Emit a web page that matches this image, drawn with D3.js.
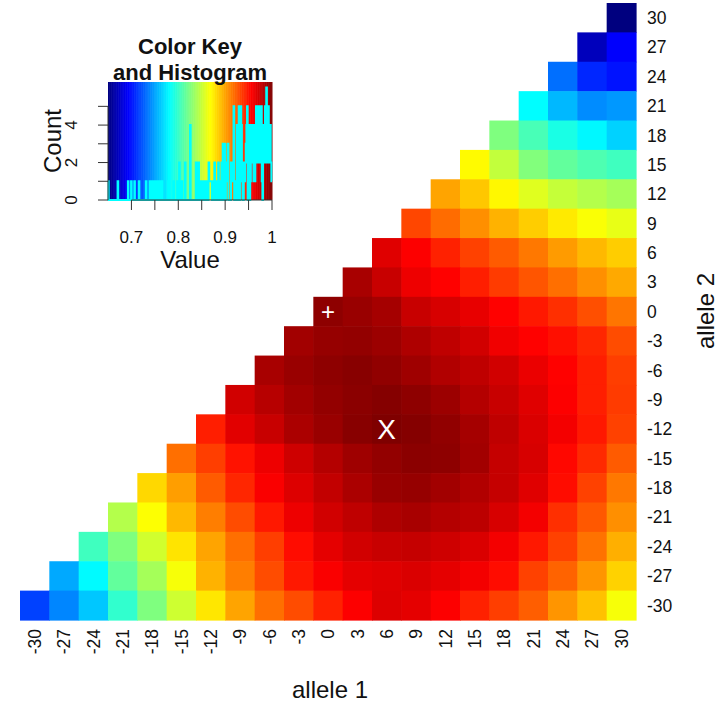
<!DOCTYPE html>
<html>
<head>
<meta charset="utf-8">
<script src="https://cdn.jsdelivr.net/npm/d3@7"></script>
<style>
  body { margin: 0; background: #fff; }
  svg text { font-family: "Liberation Sans", Arial, Helvetica, sans-serif; fill: #111; }
</style>
</head>
<body>
<svg id="chart" width="725" height="707"></svg>
<script>
// Allele lengths on each axis
const allele1 = [-30, -27, -24, -21, -18, -15, -12, -9, -6, -3, 0, 3, 6, 9, 12, 15, 18, 21, 24, 27, 30];
const allele2 = [30, 27, 24, 21, 18, 15, 12, 9, 6, 3, 0, -3, -6, -9, -12, -15, -18, -21, -24, -27, -30];

// Relative likelihood, one row per allele 2 value (top to bottom);
// each row starts at allele 1 == allele 2 and runs to allele 1 == 30.
const likelihood = [
  [0.650],
  [0.671, 0.693],
  [0.732, 0.707, 0.700],
  [0.781, 0.757, 0.742, 0.746],
  [0.825, 0.806, 0.790, 0.779, 0.766],
  [0.870, 0.848, 0.826, 0.815, 0.808, 0.803],
  [0.900, 0.888, 0.871, 0.858, 0.849, 0.843, 0.838],
  [0.932, 0.919, 0.907, 0.895, 0.886, 0.876, 0.867, 0.861],
  [0.967, 0.957, 0.945, 0.934, 0.925, 0.915, 0.903, 0.893, 0.886],
  [0.986, 0.975, 0.962, 0.956, 0.946, 0.936, 0.927, 0.918, 0.907, 0.898],
  [0.995, 0.991, 0.987, 0.975, 0.970, 0.964, 0.956, 0.948, 0.940, 0.929, 0.916],
  [0.988, 0.992, 0.993, 0.990, 0.984, 0.978, 0.972, 0.961, 0.956, 0.951, 0.943, 0.930],
  [0.986, 0.991, 0.995, 0.997, 0.994, 0.989, 0.983, 0.978, 0.972, 0.963, 0.956, 0.946, 0.935],
  [0.972, 0.981, 0.988, 0.993, 0.996, 0.998, 0.995, 0.990, 0.982, 0.975, 0.967, 0.957, 0.946, 0.936],
  [0.946, 0.966, 0.975, 0.985, 0.991, 0.997, 1.000, 0.998, 0.994, 0.987, 0.978, 0.969, 0.960, 0.948, 0.934],
  [0.918, 0.935, 0.950, 0.962, 0.973, 0.982, 0.989, 0.993, 0.996, 0.995, 0.988, 0.976, 0.970, 0.954, 0.942, 0.925],
  [0.882, 0.902, 0.925, 0.943, 0.958, 0.968, 0.977, 0.985, 0.991, 0.992, 0.988, 0.983, 0.976, 0.967, 0.952, 0.934, 0.915],
  [0.843, 0.868, 0.893, 0.913, 0.930, 0.948, 0.962, 0.972, 0.978, 0.984, 0.986, 0.982, 0.979, 0.970, 0.960, 0.940, 0.926, 0.907],
  [0.803, 0.825, 0.853, 0.878, 0.900, 0.918, 0.935, 0.952, 0.965, 0.972, 0.975, 0.976, 0.973, 0.969, 0.960, 0.948, 0.934, 0.917, 0.896],
  [0.752, 0.780, 0.815, 0.838, 0.866, 0.895, 0.913, 0.930, 0.948, 0.958, 0.965, 0.967, 0.969, 0.965, 0.960, 0.952, 0.934, 0.922, 0.905, 0.884],
  [0.716, 0.740, 0.762, 0.798, 0.825, 0.852, 0.877, 0.900, 0.918, 0.930, 0.945, 0.957, 0.968, 0.965, 0.957, 0.945, 0.935, 0.924, 0.905, 0.890, 0.866]
];

// Jet-style palette used for the cells and the key
const jetColours = ["#00007F", "#0000FF", "#007FFF", "#00FFFF", "#7FFF7F", "#FFFF00", "#FF7F00", "#FF0000", "#7F0000"];
const keyBreakCount = 256;
const keyTicks = [0.7, 0.75, 0.8, 0.85, 0.9, 0.95, 1.0];
const keyTickLabels = [0.7, 0.8, 0.9, 1.0];
const countTicks = [0, 1, 2, 3, 4, 5];
const countTickLabels = [0, 2, 4];

// Annotated genotypes
const markers = [
  { a1: 0, a2: 0, symbol: "+" },
  { a1: 6, a2: -12, symbol: "X" }
];

// Flatten rows into cells
const cells = [];
likelihood.forEach((row, i) => {
  const a2 = allele2[i];
  const start = allele1.indexOf(a2);
  row.forEach((v, j) => cells.push({ a1: allele1[start + j], a2, v }));
});

const allValues = cells.map(d => d.v);
const vMin = d3.min(allValues), vMax = d3.max(allValues);
const colour = d3.scaleLinear()
  .domain(jetColours.map((_, i) => vMin + (vMax - vMin) * i / (jetColours.length - 1)))
  .range(jetColours)
  .interpolate(d3.interpolateRgb);

const svg = d3.select("#chart");

// ---- heat map ----
const x = d3.scaleBand().domain(allele1).range([20, 636]);
const y = d3.scaleBand().domain(allele2).range([3, 620]);

svg.append("g")
  .selectAll("rect")
  .data(cells)
  .join("rect")
  .attr("x", d => x(d.a1))
  .attr("y", d => y(d.a2))
  .attr("width", x.bandwidth() + 0.6)
  .attr("height", y.bandwidth() + 0.6)
  .attr("fill", d => colour(d.v));

// column labels (rotated)
svg.append("g")
  .selectAll("text")
  .data(allele1)
  .join("text")
  .attr("transform", d => `translate(${x(d) + x.bandwidth() / 2},629) rotate(-90)`)
  .attr("text-anchor", "end")
  .attr("dy", "0.36em")
  .style("font-size", "17.5px")
  .text(d => d);

// row labels
svg.append("g")
  .selectAll("text")
  .data(allele2)
  .join("text")
  .attr("x", 647)
  .attr("y", d => y(d) + y.bandwidth() / 2)
  .attr("dy", "0.36em")
  .style("font-size", "17.5px")
  .text(d => d);

svg.append("text")
  .attr("x", 330).attr("y", 698)
  .attr("text-anchor", "middle")
  .style("font-size", "24px")
  .text("allele 1");

svg.append("text")
  .attr("transform", "translate(714,311) rotate(-90)")
  .attr("text-anchor", "middle")
  .style("font-size", "24px")
  .text("allele 2");

// markers
svg.append("g")
  .selectAll("text")
  .data(markers)
  .join("text")
  .attr("x", d => x(d.a1) + x.bandwidth() / 2)
  .attr("y", d => y(d.a2) + y.bandwidth() / 2)
  .attr("text-anchor", "middle")
  .attr("dy", "0.36em")
  .style("font-size", d => d.symbol === "X" ? "28px" : "24px")
  .style("fill", "#fff")
  .text(d => d.symbol);

// ---- colour key with histogram ----
const kx = d3.scaleLinear().domain([vMin, vMax]).range([108, 272]);
const breaks = d3.range(keyBreakCount + 1).map(i => vMin + (vMax - vMin) * i / keyBreakCount);

const key = svg.append("g");
key.selectAll("rect")
  .data(d3.pairs(breaks))
  .join("rect")
  .attr("x", d => kx(d[0]))
  .attr("y", 82)
  .attr("width", d => kx(d[1]) - kx(d[0]) + 0.5)
  .attr("height", 118)
  .attr("fill", d => colour((d[0] + d[1]) / 2));

const bins = d3.bin().domain([vMin, vMax]).thresholds(breaks.slice(1, -1))(allValues);
const maxCount = d3.max(bins, b => b.length);
const ky = d3.scaleLinear().domain([0, maxCount * 1.05]).range([200, 82]);

const stepPts = [];
bins.forEach(b => {
  stepPts.push([kx(b.x0), ky(b.length)]);
  stepPts.push([kx(b.x1), ky(b.length)]);
});
key.append("path")
  .attr("d", d3.line()(stepPts))
  .attr("fill", "none")
  .attr("stroke", "cyan")
  .attr("stroke-width", 2);

// key axes
const axisCol = "#333";
key.append("line")
  .attr("x1", kx(keyTicks[0])).attr("x2", kx(keyTicks[keyTicks.length - 1]))
  .attr("y1", 200).attr("y2", 200).attr("stroke", axisCol);
key.selectAll(".xt").data(keyTicks).join("line")
  .attr("x1", d => kx(d)).attr("x2", d => kx(d))
  .attr("y1", 200).attr("y2", 210).attr("stroke", axisCol);
key.selectAll(".xl").data(keyTickLabels).join("text")
  .attr("x", d => kx(d)).attr("y", 243)
  .attr("text-anchor", "middle")
  .style("font-size", "17px")
  .text(d => d3.format("~g")(d));

key.append("line")
  .attr("x1", 108).attr("x2", 108)
  .attr("y1", ky(countTicks[0])).attr("y2", ky(countTicks[countTicks.length - 1]))
  .attr("stroke", axisCol);
key.selectAll(".yt").data(countTicks).join("line")
  .attr("x1", 98).attr("x2", 108)
  .attr("y1", d => ky(d)).attr("y2", d => ky(d)).attr("stroke", axisCol);
key.selectAll(".yl").data(countTickLabels).join("text")
  .attr("transform", d => `translate(77,${ky(d)}) rotate(-90)`)
  .attr("text-anchor", "middle")
  .style("font-size", "17px")
  .text(d => d);

key.append("text")
  .attr("transform", "translate(61,141) rotate(-90)")
  .attr("text-anchor", "middle")
  .style("font-size", "24px")
  .text("Count");
key.append("text")
  .attr("x", 190).attr("y", 268)
  .attr("text-anchor", "middle")
  .style("font-size", "24px")
  .text("Value");

key.append("text")
  .attr("x", 190).attr("y", 54)
  .attr("text-anchor", "middle")
  .style("font-size", "22px").style("font-weight", "bold")
  .text("Color Key");
key.append("text")
  .attr("x", 190).attr("y", 80)
  .attr("text-anchor", "middle")
  .style("font-size", "22px").style("font-weight", "bold")
  .text("and Histogram");
</script>
</body>
</html>
